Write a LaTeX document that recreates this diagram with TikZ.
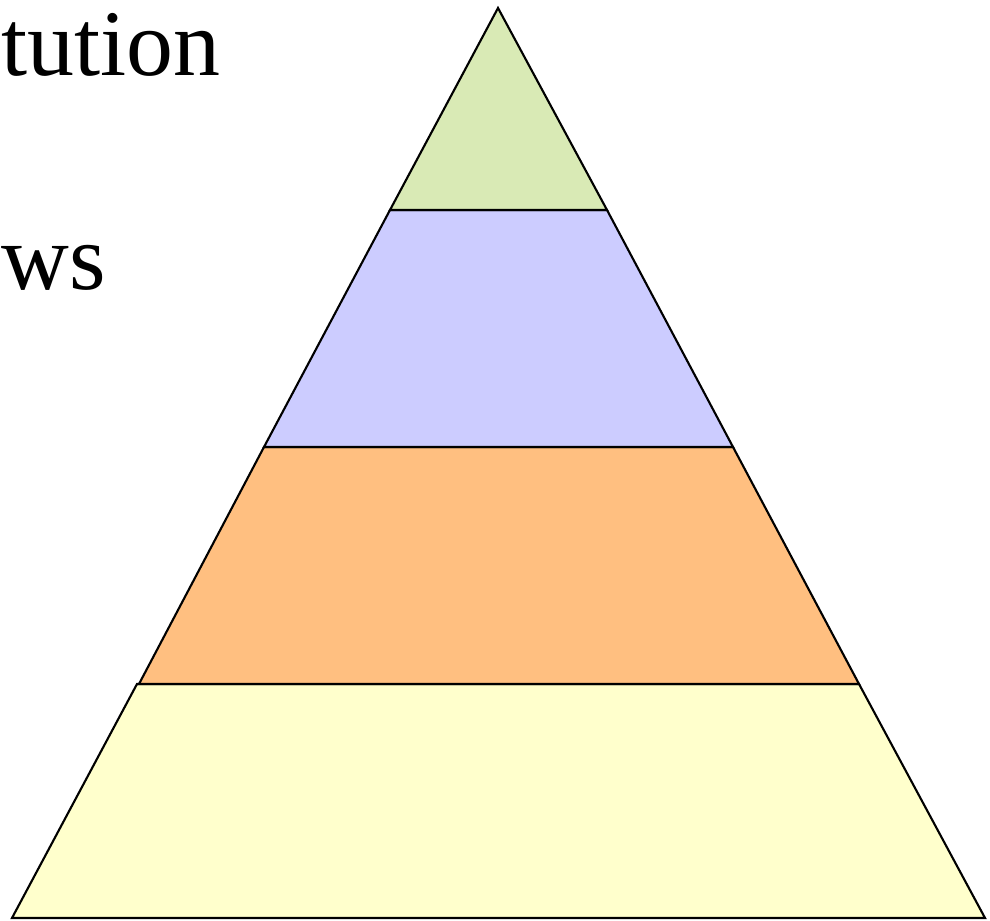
\documentclass[tikz,border=0pt]{standalone}
\usepackage{fontspec}
\setmainfont{Liberation Serif}
\usepackage{xcolor}
\usetikzlibrary{positioning,calc}
\definecolor{ink}{HTML}{000000}
\definecolor{tiertop}{HTML}{D9EAB5}
\definecolor{tiertwo}{HTML}{CCCCFF}
\definecolor{tierthree}{HTML}{FFBF80}
\definecolor{tierbase}{HTML}{FFFFCC}
\tikzset{
  tier/.style={draw=ink,semithick,line join=miter},
  lbl/.style={font=\fontsize{26.7}{32}\selectfont,anchor=base west,inner sep=0pt}
}
\begin{document}
\begin{tikzpicture}
  \clip (0,0) rectangle (9.9,9.21);
  % tiers, bottom to top
  \draw[tier,fill=tierbase] (0.12,0.03) -- (9.85,0.03) -- (8.59,2.37) -- (1.37,2.37) -- cycle;
  \draw[tier,fill=tierthree] (1.39,2.37) -- (8.59,2.37) -- (7.33,4.74) -- (2.64,4.74) -- cycle;
  \draw[tier,fill=tiertwo] (2.64,4.74) -- (7.33,4.74) -- (6.07,7.11) -- (3.90,7.11) -- cycle;
  \draw[tier,fill=tiertop] (3.90,7.11) -- (6.07,7.11) -- (4.98,9.13) -- cycle;
  % labels
  \node[lbl] (constitution) at (0.01,8.45) {tution};
  \node[lbl] (laws) at (0.01,6.31) {ws};
\end{tikzpicture}
\end{document}
